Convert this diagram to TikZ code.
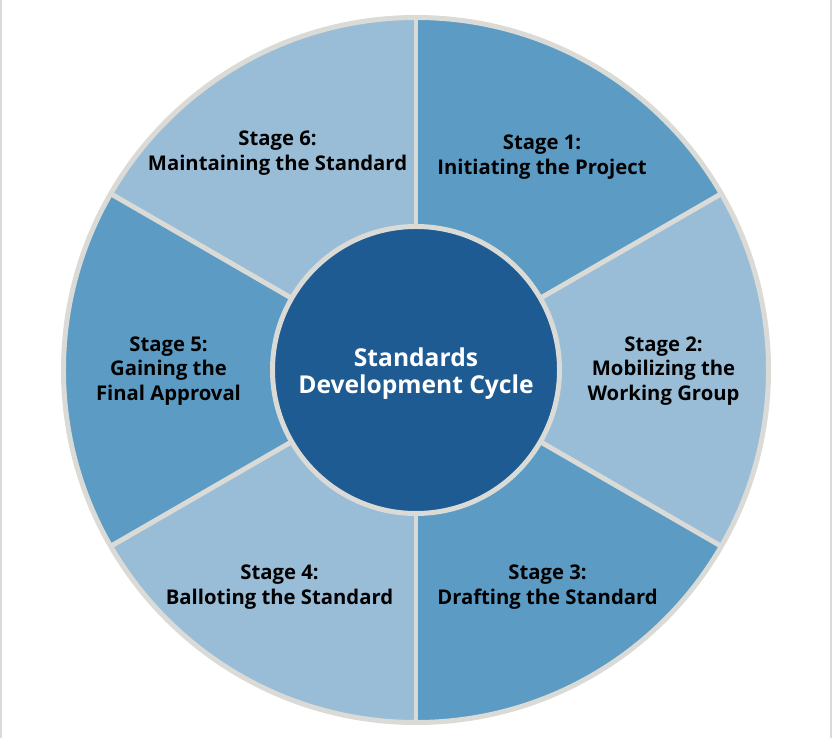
\documentclass[tikz,border=0pt]{standalone}
\usepackage{fontspec}
\setmainfont{Open Sans}
\usepackage{xcolor}
\definecolor{stagedark}{RGB}{91,155,196}
\definecolor{stagelight}{RGB}{154,189,215}
\definecolor{cyclecore}{RGB}{29,91,146}
\definecolor{rimgray}{RGB}{218,218,214}
\usetikzlibrary{calc}

\begin{document}
\begin{tikzpicture}[
    stagelabel/.style={align=center, font=\fontsize{17.3}{20.8}\selectfont\bfseries, text=black},
    corelabel/.style={align=center, font=\fontsize{21}{23}\selectfont\bfseries, text=white}
  ]
  % Frame of the picture
  \useasboundingbox (0,0) rectangle (24.96,22.14);
  \fill[white] (0,0) rectangle (24.96,22.14);
  \draw[rimgray, line width=1.5pt] (0.03,0) -- (0.03,22.14);
  \draw[rimgray, line width=1.5pt] (24.93,0) -- (24.93,22.14);

  % Centre of the wheel and its radii
  \coordinate (hub) at (12.48,11.04);
  \def\rimr{10.575}
  \def\corer{4.305}

  % Six sectors, dark and light in turn
  \fill[stagedark]  (hub) -- ++(90:\rimr)   arc[start angle=90,   end angle=30,   radius=\rimr] -- cycle;
  \fill[stagelight] (hub) -- ++(30:\rimr)   arc[start angle=30,   end angle=-30,  radius=\rimr] -- cycle;
  \fill[stagedark]  (hub) -- ++(-30:\rimr)  arc[start angle=-30,  end angle=-90,  radius=\rimr] -- cycle;
  \fill[stagelight] (hub) -- ++(-90:\rimr)  arc[start angle=-90,  end angle=-150, radius=\rimr] -- cycle;
  \fill[stagedark]  (hub) -- ++(-150:\rimr) arc[start angle=-150, end angle=-210, radius=\rimr] -- cycle;
  \fill[stagelight] (hub) -- ++(150:\rimr)  arc[start angle=150,  end angle=90,   radius=\rimr] -- cycle;

  % Dividers between the sectors
  \foreach \a in {90,30,-30,-90,-150,150}
    \draw[rimgray, line width=4.25pt] (hub) -- ++(\a:\rimr);

  % Outer rim
  \draw[rimgray, line width=4.25pt] (hub) circle (\rimr);

  % Core of the wheel
  \draw[rimgray, line width=4.25pt, fill=cyclecore] (hub) circle (\corer);
  \node[corelabel] (core) at ($(hub)+(0,-0.12)$) {Standards\\Development Cycle};

  % Stage labels
  \node[stagelabel] (stageone)   at ($(hub)+(3.78,6.39)$)    {Stage 1:\\Initiating the Project};
  \node[stagelabel] (stagetwo)   at ($(hub)+(7.425,-0.03)$)  {Stage 2:\\Mobilizing the\\Working Group};
  \node[stagelabel] (stagethree) at ($(hub)+(3.945,-6.51)$)  {Stage 3:\\Drafting the Standard};
  \node[stagelabel] (stagefour)  at ($(hub)+(-4.095,-6.51)$) {Stage 4:\\Balloting the Standard};
  \node[stagelabel] (stagefive)  at ($(hub)+(-7.425,-0.03)$) {Stage 5:\\Gaining the\\Final Approval};
  \node[stagelabel] (stagesix)   at ($(hub)+(-4.155,6.51)$)  {Stage 6:\\Maintaining the Standard};
\end{tikzpicture}
\end{document}
